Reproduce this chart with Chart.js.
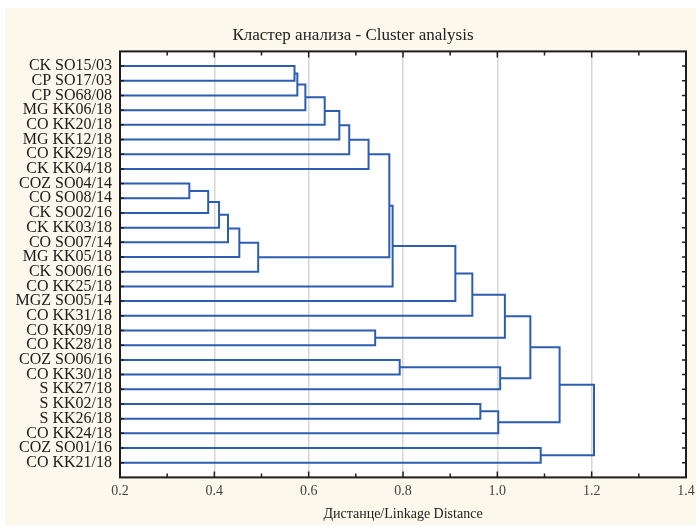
<!DOCTYPE html>
<html>
<head>
<meta charset="utf-8">
<script src="https://cdn.jsdelivr.net/npm/chart.js@4.4.1/dist/chart.umd.min.js"></script>
<style>
  html, body { margin: 0; padding: 0; background: #ffffff; }
  #wrap { width: 696px; height: 527px; }
</style>
</head>
<body>
<div id="wrap"><canvas id="dendro"></canvas></div>
<script>
// leaves, top to bottom
const leafLabels = [
  'CK SO15/03', 'CP SO17/03', 'CP SO68/08', 'MG KK06/18', 'CO KK20/18', 'MG KK12/18',
  'CO KK29/18', 'CK KK04/18', 'COZ SO04/14', 'CO SO08/14', 'CK SO02/16', 'CK KK03/18',
  'CO SO07/14', 'MG KK05/18', 'CK SO06/16', 'CO KK25/18', 'MGZ SO05/14', 'CO KK31/18',
  'CO KK09/18', 'CO KK28/18', 'COZ SO06/16', 'CO KK30/18', 'S KK27/18', 'S KK02/18',
  'S KK26/18', 'CO KK24/18', 'COZ SO01/16', 'CO KK21/18'
];

// merge steps: node ids 0..27 are leaves, step k makes node 28+k
const mergeA = [0, 28, 29, 30, 31, 32, 33, 8, 35, 36, 37, 38, 39, 34, 41, 42, 43, 18, 44, 20, 47, 46, 23, 50, 49, 26, 52];
const mergeB = [1, 2, 3, 4, 5, 6, 7, 9, 10, 11, 12, 13, 14, 40, 15, 16, 17, 19, 45, 21, 22, 48, 24, 25, 51, 27, 53];
const mergeDist = [0.570, 0.576, 0.593, 0.634, 0.665, 0.686, 0.727,
                   0.347, 0.387, 0.410, 0.429, 0.453, 0.493,
                   0.771, 0.778, 0.911, 0.947, 0.741, 1.016,
                   0.793, 1.006, 1.070, 0.964, 1.002, 1.132, 1.092, 1.205];

const xTicks = [0.2, 0.4, 0.6, 0.8, 1.0, 1.2, 1.4];

const xMin = xTicks[0];
const lineColor = '#2b5db2';

// node position (row) and height
const nodeY = leafLabels.map((l, i) => i);
const nodeH = leafLabels.map(() => xMin);
const datasets = [];
mergeA.forEach((a, k) => {
  const b = mergeB[k];
  const h = mergeDist[k];
  datasets.push({
    data: [
      { x: nodeH[a], y: nodeY[a] },
      { x: h, y: nodeY[a] },
      { x: h, y: nodeY[b] },
      { x: nodeH[b], y: nodeY[b] }
    ],
    showLine: true,
    borderColor: lineColor,
    borderWidth: 2,
    pointRadius: 0,
    tension: 0,
    fill: false
  });
  nodeY.push((nodeY[a] + nodeY[b]) / 2);
  nodeH.push(h);
});

// cream panel, white plot, frame and inward ticks
const framePlugin = {
  id: 'frame',
  beforeDraw(chart) {
    const c = chart.ctx, a = chart.chartArea;
    c.save();
    c.fillStyle = '#fdf8ec';
    c.fillRect(5, 8, chart.width - 5, chart.height - 10);
    c.fillStyle = '#ffffff';
    c.fillRect(a.left, a.top, a.right - a.left, a.bottom - a.top);
    c.restore();
  },
  afterDraw(chart) {
    const c = chart.ctx, a = chart.chartArea;
    const xs = chart.scales.x, ys = chart.scales.y;
    c.save();
    c.strokeStyle = '#1e1e1e';
    c.lineWidth = 2;
    c.strokeRect(a.left, a.top, a.right - a.left, a.bottom - a.top);
    c.lineWidth = 1.5;
    c.beginPath();
    for (let i = 0; i < xTicks.length; i++) {
      const px = xs.getPixelForValue(xTicks[i]);
      c.moveTo(px, a.top); c.lineTo(px, a.top + 6);
      c.moveTo(px, a.bottom); c.lineTo(px, a.bottom - 6);
      if (i < xTicks.length - 1) {
        const mx = xs.getPixelForValue((xTicks[i] + xTicks[i + 1]) / 2);
        c.moveTo(mx, a.top); c.lineTo(mx, a.top + 4);
        c.moveTo(mx, a.bottom); c.lineTo(mx, a.bottom - 4);
      }
    }
    ys.ticks.forEach(t => {
      const py = ys.getPixelForValue(t.value);
      c.moveTo(a.left, py); c.lineTo(a.left + 4, py);
      c.moveTo(a.right, py); c.lineTo(a.right - 4, py);
    });
    c.stroke();
    c.restore();
  }
};

new Chart(document.getElementById('dendro'), {
  type: 'scatter',
  data: { datasets: datasets },
  options: {
    responsive: true,
    maintainAspectRatio: false,
    animation: false,
    layout: { padding: { left: 10, right: 0, top: 0, bottom: 1 } },
    plugins: {
      legend: { display: false },
      tooltip: { enabled: false },
      title: {
        display: true,
        text: 'Кластер анализа - Cluster analysis',
        color: '#222222',
        font: { family: 'Liberation Serif', size: 17, weight: 'normal' },
        padding: { top: 25, bottom: 6 }
      }
    },
    scales: {
      x: {
        type: 'linear',
        min: xTicks[0],
        max: xTicks[xTicks.length - 1],
        afterBuildTicks: s => { s.ticks = xTicks.map(v => ({ value: v })); },
        afterFit: s => { s.paddingRight = 10; },
        ticks: {
          callback: v => v.toFixed(1),
          color: '#444444',
          font: { family: 'Liberation Serif', size: 14 },
          padding: 6,
          maxRotation: 0
        },
        grid: {
          drawTicks: false,
          lineWidth: 1.5,
          color: ctx => (ctx.tick && ctx.tick.value > xTicks[0] && ctx.tick.value < xTicks[xTicks.length - 1]) ? '#d6d6d6' : 'rgba(0,0,0,0)'
        },
        border: { display: false },
        title: {
          display: true,
          text: 'Дистанце/Linkage Distance',
          color: '#222222',
          font: { family: 'Liberation Serif', size: 14 },
          padding: { top: 0, bottom: 3 }
        }
      },
      y: {
        type: 'linear',
        reverse: true,
        min: -1,
        max: leafLabels.length,
        afterBuildTicks: s => { s.ticks = leafLabels.map((l, i) => ({ value: i })); },
        afterFit: s => { s.width = 110; },
        ticks: {
          autoSkip: false,
          callback: v => leafLabels[v],
          color: '#1a1a1a',
          font: { family: 'Liberation Serif', size: 16 },
          padding: 8
        },
        grid: { display: false, drawTicks: false },
        border: { display: false }
      }
    }
  },
  plugins: [framePlugin]
});
</script>
</body>
</html>
